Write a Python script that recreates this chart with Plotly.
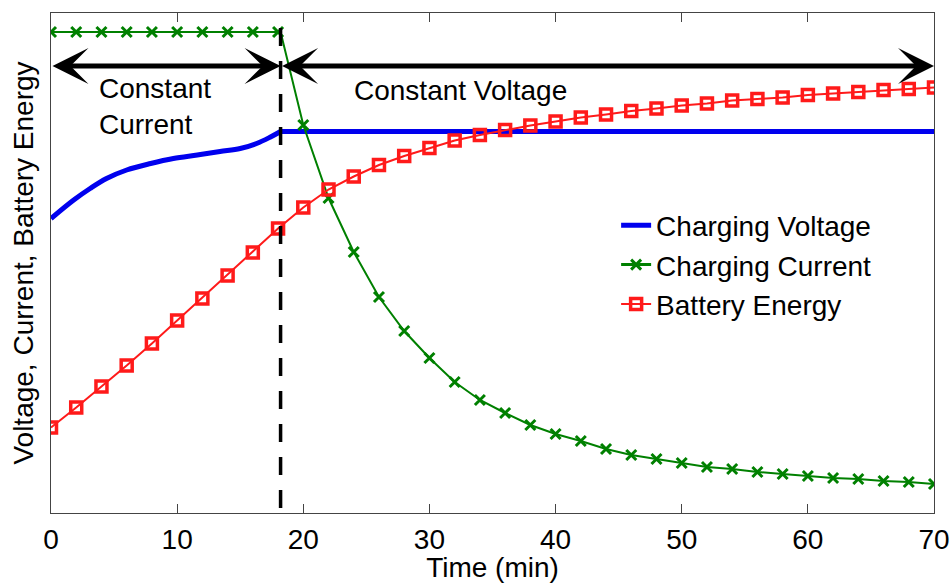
import plotly.graph_objects as go

# ---- data (normalised units, 0..1 on the y axis) ----
t_even = [0, 2, 4, 6, 8, 10, 12, 14, 16, 18, 20, 22, 24, 26, 28, 30, 32, 34,
          36, 38, 40, 42, 44, 46, 48, 50, 52, 54, 56, 58, 60, 62, 64, 66, 68, 70]

t_switch = 18.2

current_vals = [0.962, 0.962, 0.962, 0.962, 0.962, 0.962, 0.962, 0.962, 0.962, 0.962,
                0.776, 0.630, 0.522, 0.432, 0.364, 0.310, 0.262, 0.226, 0.200, 0.176,
                0.158, 0.144, 0.128, 0.116, 0.108, 0.100, 0.092, 0.088, 0.082, 0.078,
                0.074, 0.070, 0.068, 0.064, 0.062, 0.058]

energy_vals = [0.171, 0.211, 0.253, 0.295, 0.339, 0.385, 0.429, 0.475, 0.521, 0.569,
               0.611, 0.647, 0.673, 0.696, 0.714, 0.730, 0.745, 0.756, 0.766, 0.775,
               0.783, 0.791, 0.797, 0.804, 0.809, 0.815, 0.819, 0.825, 0.828, 0.831,
               0.836, 0.839, 0.842, 0.846, 0.848, 0.851]

# constant-current phase of the charging voltage, then constant-voltage phase
voltage_cc_t = [0, 1.8, 3.1, 4.4, 6.0, 7.9, 9.7, 11.6, 13.4, 15.0, 16.3, 17.4, 18.2]
voltage_cc_v = [0.589, 0.626, 0.649, 0.669, 0.686, 0.699, 0.709, 0.716, 0.723, 0.729,
                0.739, 0.752, 0.763]
voltage_cv_t = [18.2, 70]
voltage_cv_v = [0.763, 0.763]

arrow_level = 0.894
x_ticks = [0, 10, 20, 30, 40, 50, 60, 70]

# current line including the switching corner
cur_line_t = t_even[:10] + [t_switch] + t_even[10:]
cur_line_v = current_vals[:10] + [current_vals[9]] + current_vals[10:]

BLUE = "#0000ee"
GREEN = "#008000"
RED = "#ff1a1a"
FONT = "Liberation Sans, Arial, sans-serif"
FS = 28

fig = go.Figure()

# Charging voltage
fig.add_trace(go.Scatter(x=voltage_cc_t, y=voltage_cc_v, mode="lines",
                         line=dict(color=BLUE, width=5, shape="spline", smoothing=1),
                         showlegend=False))
fig.add_trace(go.Scatter(x=voltage_cv_t, y=voltage_cv_v, mode="lines",
                         line=dict(color=BLUE, width=5),
                         name="Charging Voltage"))

# Charging current: line + markers (separate so the corner has no marker)
fig.add_trace(go.Scatter(x=cur_line_t, y=cur_line_v, mode="lines",
                         line=dict(color=GREEN, width=2), showlegend=False,
                         hoverinfo="skip"))
fig.add_trace(go.Scatter(x=t_even, y=current_vals, mode="markers",
                         marker=dict(symbol="x-thin", size=10, color=GREEN,
                                     line=dict(color=GREEN, width=3)),
                         showlegend=False))
fig.add_trace(go.Scatter(x=[None], y=[None], mode="lines+markers",
                         line=dict(color=GREEN, width=3),
                         marker=dict(symbol="x-thin", size=10, color=GREEN,
                                     line=dict(color=GREEN, width=3)),
                         name="Charging Current"))

# Battery energy
fig.add_trace(go.Scatter(x=t_even, y=energy_vals, mode="lines+markers",
                         line=dict(color=RED, width=2),
                         marker=dict(symbol="square-open", size=11, color=RED,
                                     line=dict(color=RED, width=3.5)),
                         name="Battery Energy"))

# dashed switch line
fig.add_shape(type="line", x0=t_switch, x1=t_switch, y0=0.01, y1=1, xref="x", yref="paper",
              line=dict(color="black", width=3.5, dash="18px,15px"))

# double arrows
for a, b in [(0, t_switch), (t_switch, 70)]:
    fig.add_annotation(x=b, y=arrow_level, ax=a, ay=arrow_level, xref="x", yref="y",
                       axref="x", ayref="y", text="", showarrow=True,
                       arrowhead=3, startarrowhead=3, arrowside="end+start",
                       arrowsize=1.2, startarrowsize=1.2, arrowwidth=5,
                       arrowcolor="black", standoff=0, startstandoff=0)

fig.add_annotation(x=3.65, y=0.814, xref="x", yref="y", text="Constant<br>Current",
                   showarrow=False, xanchor="left", yanchor="middle", align="left",
                   font=dict(size=FS, color="black", family=FONT))
fig.add_annotation(x=23.85, y=0.846, xref="x", yref="y", text="Constant Voltage",
                   showarrow=False, xanchor="left", yanchor="middle",
                   font=dict(size=FS, color="black", family=FONT))

fig.update_layout(
    width=950, height=583,
    margin=dict(l=51, r=16, t=13, b=70),
    paper_bgcolor="white", plot_bgcolor="white",
    font=dict(family=FONT, size=FS, color="black"),
    showlegend=True,
    legend=dict(x=0.640, y=0.625, xanchor="left", yanchor="top",
                bgcolor="rgba(0,0,0,0)", font=dict(size=FS, family=FONT)),
    xaxis=dict(range=[0, 70], tickvals=x_ticks, ticks="inside", ticklen=9,
               tickcolor="#444", showline=True, linecolor="#444", linewidth=1.2,
               mirror="ticks", showgrid=False, zeroline=False, automargin=False,
               ticklabelstandoff=1,
               title=dict(text="Time (min)", standoff=14,
                          font=dict(size=FS, family=FONT)),
               tickfont=dict(size=FS, family=FONT)),
    yaxis=dict(range=[0, 1], showticklabels=False, ticks="", showline=True,
               linecolor="#444", linewidth=1.2, mirror=True, showgrid=False,
               zeroline=False, automargin=False,
               title=dict(text="Voltage, Current, Battery Energy", standoff=8,
                          font=dict(size=FS, family=FONT))),
)

fig.write_html("out.html")
